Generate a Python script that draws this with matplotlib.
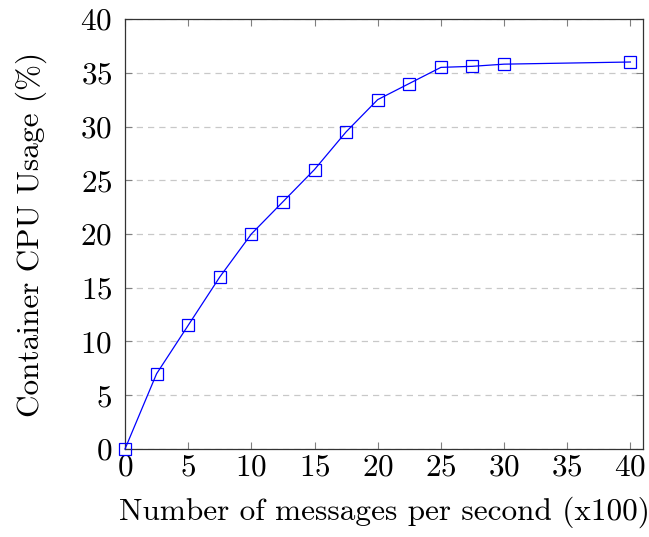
import matplotlib
matplotlib.use('Agg')
import matplotlib.pyplot as plt

# data
msgs = [0, 2.5, 5, 7.5, 10, 12.5, 15, 17.5, 20, 22.5, 25, 27.5, 30, 40]
cpu = [0, 7, 11.5, 16, 20, 23, 26, 29.5, 32.5, 34, 35.5, 35.6, 35.8, 36]
xticks = [0, 5, 10, 15, 20, 25, 30, 35, 40]
yticks = [0, 5, 10, 15, 20, 25, 30, 35, 40]

plt.rcParams['font.family'] = 'cmr10'
plt.rcParams['mathtext.fontset'] = 'cm'
plt.rcParams['axes.formatter.use_mathtext'] = True

fig = plt.figure(figsize=(6.49, 5.37), dpi=100)
ax = fig.add_axes([0.1926, 0.1639, 0.7982, 0.8007])

ax.plot(msgs, cpu, color='blue', linewidth=0.9, marker='s', markersize=8,
        markerfacecolor='none', markeredgecolor='blue', markeredgewidth=0.9,
        clip_on=False, zorder=3)

ax.set_xlim(0, 41)
ax.set_ylim(0, 40)
ax.set_xticks(xticks)
ax.set_yticks(yticks)
ax.yaxis.grid(True, linestyle=(0, (5, 4)), color='#c8c8c8', linewidth=0.9)
ax.set_axisbelow(True)

ax.tick_params(direction='in', length=5, width=0.8, color='#808080',
               labelsize=22.5, top=True, right=True)
ax.tick_params(axis='x', pad=3)
ax.tick_params(axis='y', pad=9)
for s in ax.spines.values():
    s.set_linewidth(0.9)
    s.set_color('#333333')

ax.set_xlabel('Number of messages per second (x100)', fontsize=22.5, labelpad=11)
ax.set_ylabel('Container CPU Usage (%)', fontsize=22.5, labelpad=24)

fig.savefig('out.png', dpi=100)
